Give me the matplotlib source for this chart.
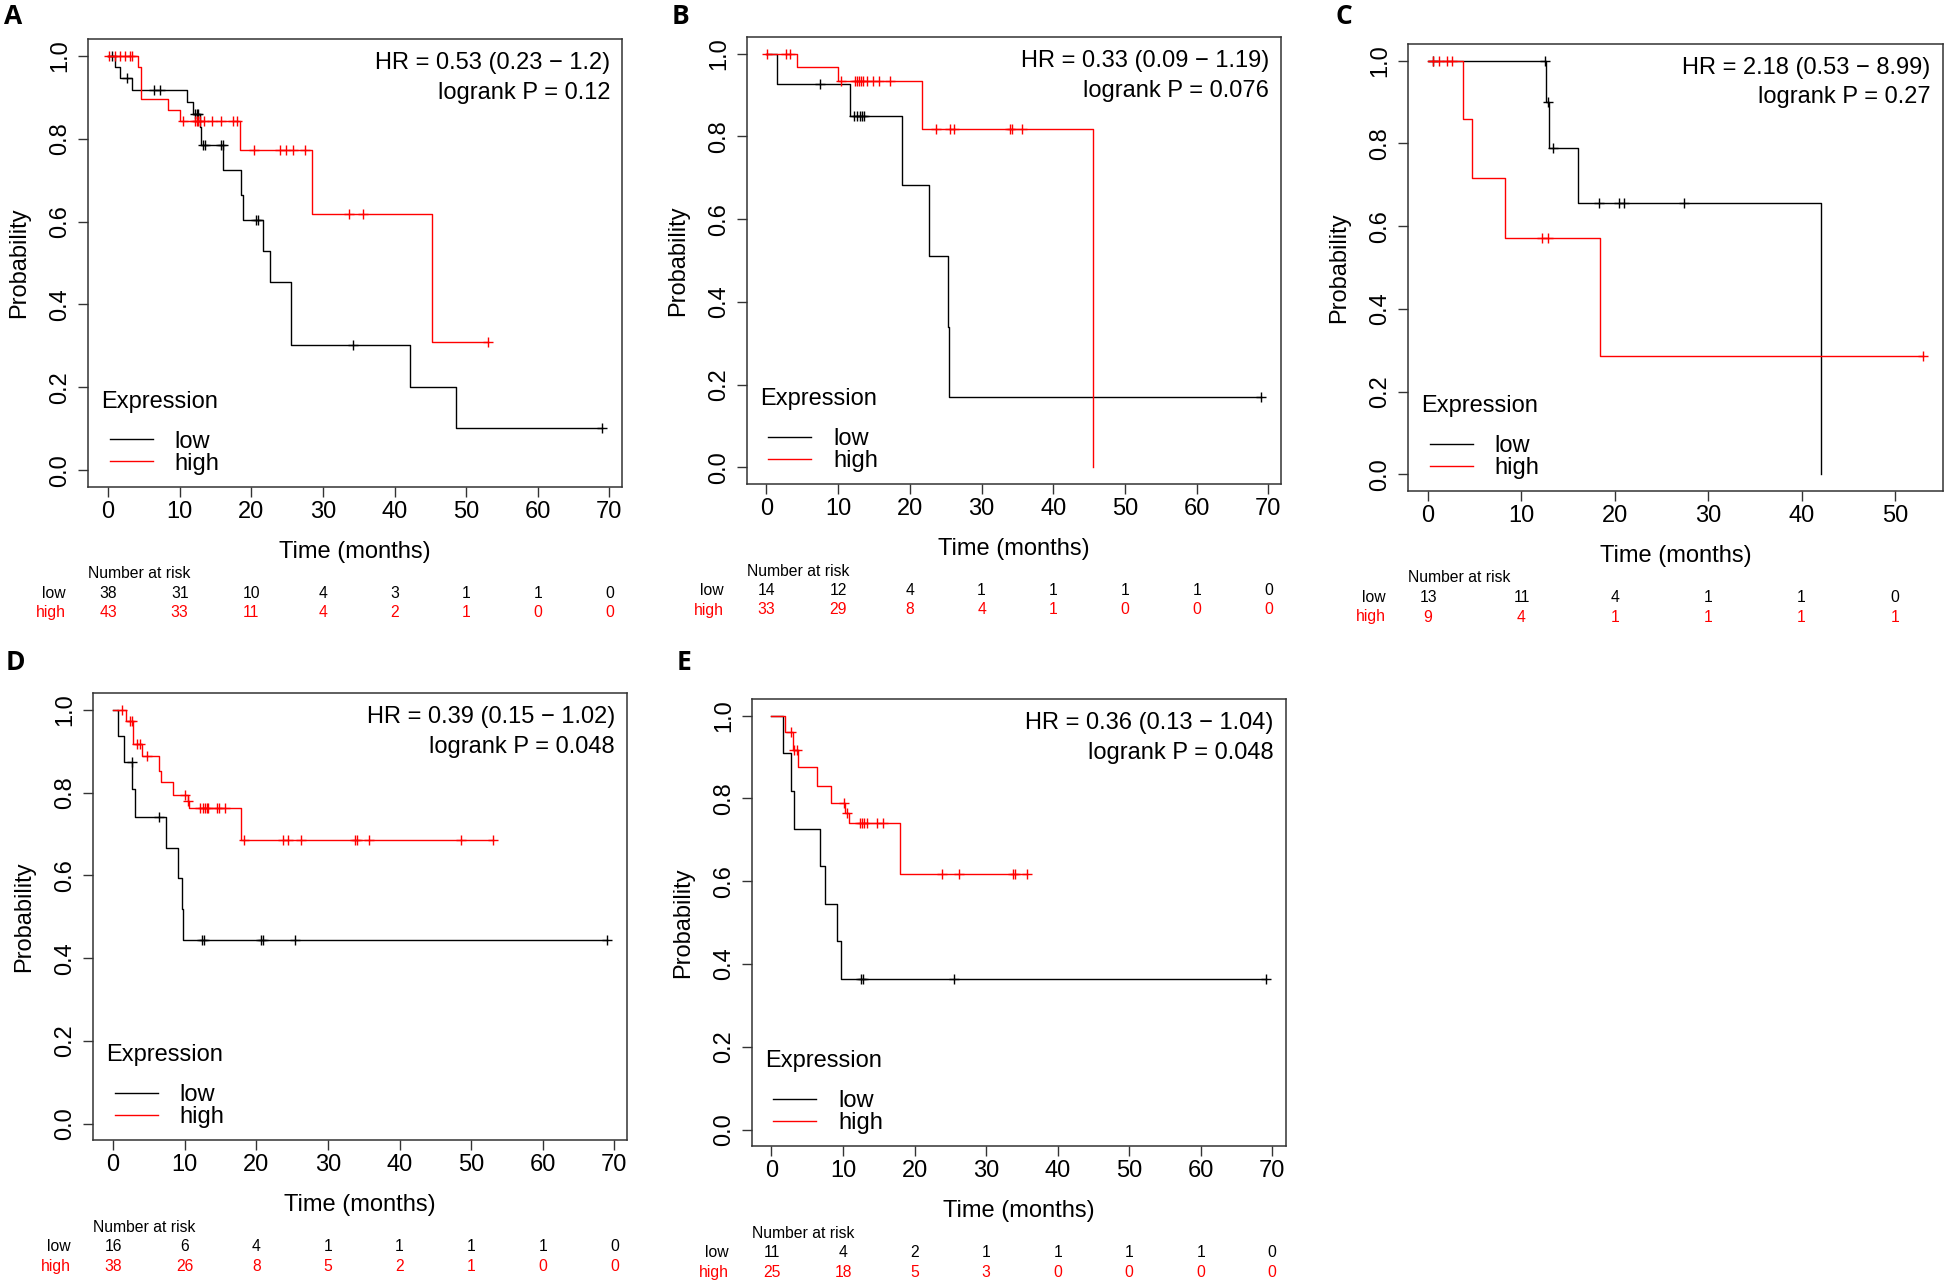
import numpy as np
import matplotlib.pyplot as plt
import matplotlib.transforms as mtransforms

plt.rcParams['font.family'] = ['Liberation Sans', 'DejaVu Sans']

# ---- panel A ----
a_low_t = [1.0, 1.6, 3.4, 11.0, 11.9, 12.8, 13.0, 16.1, 18.5, 18.9, 21.7, 22.6, 25.5, 42.1, 48.6]
a_low_s = [0.973, 0.946, 0.918, 0.889, 0.860, 0.829, 0.786, 0.725, 0.665, 0.605, 0.530, 0.454, 0.302, 0.201, 0.101]
a_low_c = [0.6, 2.7, 6.4, 7.3, 12.2, 12.4, 12.6, 13.3, 13.6, 15.7, 16.0, 20.7, 21.0, 34.2, 69.0]
a_high_t = [4.2, 4.6, 8.3, 10.0, 18.4, 28.5, 45.3]
a_high_s = [0.973, 0.897, 0.870, 0.843, 0.773, 0.618, 0.309]
a_high_c = [0.2, 0.9, 1.6, 2.3, 3.0, 3.4, 10.5, 12.2, 12.4, 12.6, 12.8, 13.4, 14.5, 15.7, 17.4, 18.0,
            20.4, 24.0, 24.8, 25.8, 27.5, 33.6, 35.6, 53.0]
a_risk_low = [38, 31, 10, 4, 3, 1, 1, 0]
a_risk_high = [43, 33, 11, 4, 2, 1, 0, 0]
a_stats = ["HR = 0.53 (0.23 \u2212 1.2)", "logrank P = 0.12"]

# ---- panel B ----
b_low_t = [1.45, 11.7, 18.9, 22.6, 25.3, 25.5]
b_low_s = [0.928, 0.850, 0.682, 0.510, 0.340, 0.170]
b_low_c = [7.5, 12.2, 12.6, 13.0, 13.3, 13.6, 69.0]
b_high_t = [4.3, 10.0, 21.7, 45.5]
b_high_s = [0.967, 0.933, 0.817, 0.0]
b_high_c = [0.1, 2.7, 3.3, 10.4, 12.3, 12.6, 12.9, 13.2, 13.5, 14.0, 14.9, 15.7, 17.2,
            23.7, 25.6, 26.1, 33.9, 34.3, 35.7]
b_risk_low = [14, 12, 4, 1, 1, 1, 1, 0]
b_risk_high = [33, 29, 8, 4, 1, 0, 0, 0]
b_stats = ["HR = 0.33 (0.09 \u2212 1.19)", "logrank P = 0.076"]

# ---- panel C ----
c_low_t = [12.6, 13.0, 16.1, 42.1]
c_low_s = [0.900, 0.788, 0.655, 0.0]
c_low_c = [0.5, 12.5, 12.85, 13.4, 18.3, 20.4, 21.0, 27.4]
c_high_t = [3.7, 4.7, 8.2, 18.4]
c_high_s = [0.858, 0.716, 0.572, 0.286]
c_high_c = [0.5, 1.2, 2.0, 2.6, 12.2, 12.8, 53.0]
c_risk_low = [13, 11, 4, 1, 1, 0]
c_risk_high = [9, 4, 1, 1, 1, 1]
c_stats = ["HR = 2.18 (0.53 \u2212 8.99)", "logrank P = 0.27"]

# ---- panel D ----
d_low_t = [0.7, 1.5, 2.7, 3.1, 7.4, 9.1, 9.6, 9.8]
d_low_s = [0.938, 0.875, 0.808, 0.741, 0.667, 0.593, 0.518, 0.444]
d_low_c = [2.6, 6.4, 12.4, 12.7, 20.6, 21.0, 25.4, 69.0]
d_high_t = [1.8, 2.8, 4.0, 6.4, 6.7, 8.4, 10.4, 10.6, 17.9]
d_high_s = [0.974, 0.918, 0.888, 0.853, 0.826, 0.794, 0.779, 0.762, 0.686]
d_high_c = [1.25, 2.3, 2.6, 3.3, 3.8, 4.7, 10.1, 10.5, 12.2, 12.5, 12.8, 13.1, 13.3, 14.5, 14.8, 15.6,
            18.3, 23.7, 24.4, 26.2, 33.8, 34.1, 35.7, 48.6, 53.1]
d_risk_low = [16, 6, 4, 1, 1, 1, 1, 0]
d_risk_high = [38, 26, 8, 5, 2, 1, 0, 0]
d_stats = ["HR = 0.39 (0.15 \u2212 1.02)", "logrank P = 0.048"]

# ---- panel E ----
e_low_t = [1.6, 2.7, 3.2, 6.8, 7.5, 9.2, 9.7]
e_low_s = [0.909, 0.818, 0.727, 0.636, 0.545, 0.455, 0.364]
e_low_c = [12.5, 12.8, 25.5, 69.1]
e_high_t = [1.85, 3.0, 3.7, 6.4, 8.3, 10.3, 10.8, 17.9]
e_high_s = [0.960, 0.918, 0.875, 0.831, 0.788, 0.765, 0.741, 0.617]
e_high_c = [2.7, 3.2, 3.6, 10.1, 10.5, 12.4, 12.6, 12.9, 13.4, 14.7, 15.6, 23.8, 26.2, 33.8, 34.1, 35.7]
e_risk_low = [11, 4, 2, 1, 1, 1, 1, 0]
e_risk_high = [25, 18, 5, 3, 0, 0, 0, 0]
e_stats = ["HR = 0.36 (0.13 \u2212 1.04)", "logrank P = 0.048"]

ticks70 = [0, 10, 20, 30, 40, 50, 60, 70]
ticks50 = [0, 10, 20, 30, 40, 50]

W, H = 1946, 1283
LOW_COL, HIGH_COL = 'black', '#ff0000'
FS = 17        # main text size
FS_RISK = 11.3  # number-at-risk table

# panel boxes in pixels: left, top, right, bottom ; letter centre in pixels
panels = [
    ('A', (88.3, 39.3, 622, 486.7), (a_low_t, a_low_s, a_low_c), (a_high_t, a_high_s, a_high_c),
     a_risk_low, a_risk_high, a_stats, ticks70, (13, 17)),
    ('B', (746.7, 37.2, 1281, 484), (b_low_t, b_low_s, b_low_c), (b_high_t, b_high_s, b_high_c),
     b_risk_low, b_risk_high, b_stats, ticks70, (680, 16)),
    ('C', (1408.3, 44, 1942.7, 491), (c_low_t, c_low_s, c_low_c), (c_high_t, c_high_s, c_high_c),
     c_risk_low, c_risk_high, c_stats, ticks50, (1344, 17)),
    ('D', (93.3, 693.3, 627, 1140.3), (d_low_t, d_low_s, d_low_c), (d_high_t, d_high_s, d_high_c),
     d_risk_low, d_risk_high, d_stats, ticks70, (15, 662)),
    ('E', (751.7, 699.1, 1285.6, 1146.3), (e_low_t, e_low_s, e_low_c), (e_high_t, e_high_s, e_high_c),
     e_risk_low, e_risk_high, e_stats, ticks70, (684, 663)),
]


def draw_curve(ax, t_ev, s_ev, cens, color):
    t_end = max(max(t_ev), max(cens))
    x = [0] + list(t_ev) + [t_end]
    y = [1] + list(s_ev) + [s_ev[-1]]
    line, = ax.step(x, y, where='post', color=color, lw=1.0)
    levels = np.array([1] + list(s_ev))
    idx = np.searchsorted(np.array(t_ev), np.array(cens), side='right')
    ax.plot(cens, levels[idx], ls='none', marker='+', ms=7.5, mew=1.0, color=color)
    return line


fig = plt.figure(figsize=(W / 100, H / 100), dpi=100)

for letter, (l, t, r, b), low, high, r_low, r_high, stats, ticks, lpos in panels:
    w, h = r - l, b - t
    ax = fig.add_axes([l / W, 1 - b / H, w / W, h / H])
    ln_low = draw_curve(ax, *low, LOW_COL)
    ln_high = draw_curve(ax, *high, HIGH_COL)

    tmax = max(max(low[0]), max(low[2]), max(high[0]), max(high[2]))
    ax.set_xlim(-0.04 * tmax, 1.04 * tmax)
    ax.set_ylim(-0.04, 1.04)
    ax.set_xticks(ticks)
    ax.set_yticks([0, 0.2, 0.4, 0.6, 0.8, 1.0])
    ax.set_yticklabels(['0.0', '0.2', '0.4', '0.6', '0.8', '1.0'])
    ax.tick_params(labelsize=FS, length=7.2, width=1.0, direction='out', color='#333333')
    ax.tick_params(axis='x', pad=3)
    ax.tick_params(axis='y', pad=5, labelrotation=90)
    for lab in ax.get_yticklabels():
        lab.set_va('center')
    for sp in ax.spines.values():
        sp.set_linewidth(1.1)
        sp.set_color('#333333')

    ax.set_xlabel('Time (months)', fontsize=FS, va='center')
    ax.xaxis.set_label_coords(0.5, -65 / h)
    ax.set_ylabel('Probability', fontsize=FS, va='center')
    ax.yaxis.set_label_coords(-68.7 / w, 0.5)

    ax.text(1 - 12 / w, 1 - 24 / h, stats[0], transform=ax.transAxes, ha='right', va='center', fontsize=FS)
    ax.text(1 - 12 / w, 1 - 53.4 / h, stats[1], transform=ax.transAxes, ha='right', va='center', fontsize=FS)

    ax.text(13 / w, 85 / h, 'Expression', transform=ax.transAxes, ha='left', va='center', fontsize=FS)
    ax.legend([ln_low, ln_high], ['low', 'high'], loc='lower left', bbox_to_anchor=(21.7 / w, 12 / h),
              frameon=False, fontsize=FS, handlelength=1.82, handletextpad=0.92,
              labelspacing=0.0, borderpad=0, borderaxespad=0)

    # number at risk table
    tr = mtransforms.blended_transform_factory(ax.transData, fig.transFigure)
    fig.text(l / W, 1 - (b + 87) / H, 'Number at risk', ha='left', va='center', fontsize=FS_RISK)
    fig.text((l - 22.6) / W, 1 - (b + 106.5) / H, 'low', ha='right', va='center',
             fontsize=FS_RISK, color=LOW_COL)
    fig.text((l - 22.6) / W, 1 - (b + 126) / H, 'high', ha='right', va='center',
             fontsize=FS_RISK, color=HIGH_COL)
    for xt, nl, nh in zip(ticks, r_low, r_high):
        ax.text(xt, 1 - (b + 106.5) / H, str(nl), transform=tr, ha='center', va='center',
                fontsize=FS_RISK, color=LOW_COL, clip_on=False)
        ax.text(xt, 1 - (b + 126) / H, str(nh), transform=tr, ha='center', va='center',
                fontsize=FS_RISK, color=HIGH_COL, clip_on=False)

    fig.text(lpos[0] / W, 1 - lpos[1] / H, letter, ha='center', va='center',
             fontsize=19, fontweight='bold', family=['Open Sans', 'DejaVu Sans'])

fig.savefig('out.png', dpi=100)
